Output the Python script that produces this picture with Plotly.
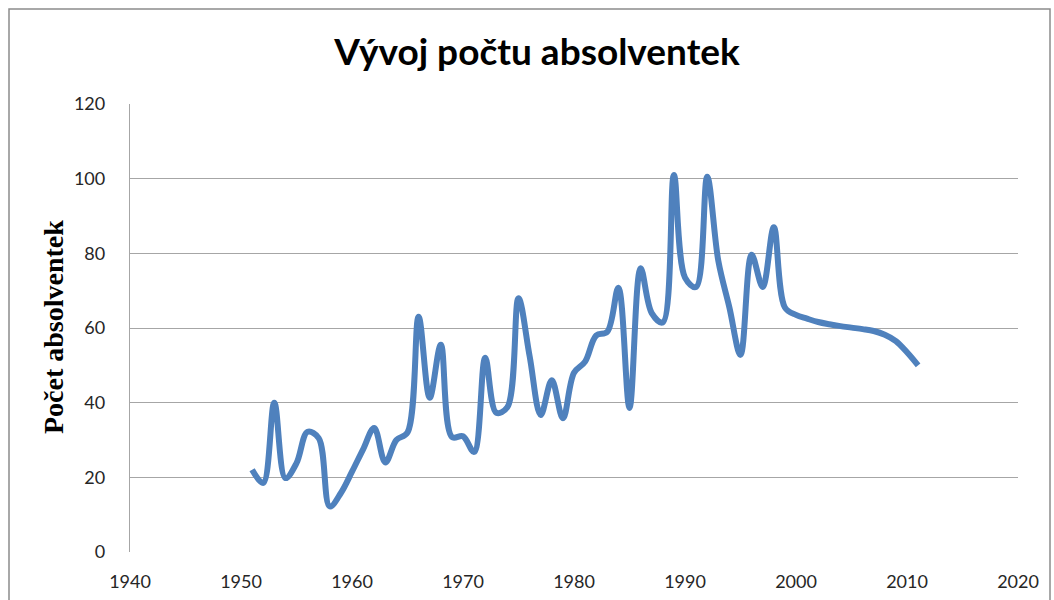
import plotly.graph_objects as go

years = list(range(1951, 2012))
graduates = [
    22, 18.5, 40, 19.8, 23.8, 32.2, 30.5, 12.2, 15.8, 21.5,   # 1951-1960
    27.5, 33.2, 24, 30, 32, 63, 41.3, 55.5, 30.8, 31,         # 1961-1970
    26.8, 52, 37.3, 38.8, 68, 52.5, 36.7, 46, 35.8, 48,       # 1971-1980
    51, 58, 59, 70.8, 38.6, 76, 64, 61.5, 101, 73.5,          # 1981-1990
    71, 100.5, 78, 65.5, 52.8, 79.6, 71, 87, 65.5, 63.5,      # 1991-2000
    62.5, 61.6, 61, 60.5, 60.1, 59.7, 59.2, 58.2, 56.5, 53.5, # 2001-2010
    50,                                                       # 2011
]

title_text = "Vývoj počtu absolventek"
y_title = "Počet absolventek"
x_ticks = [1940, 1950, 1960, 1970, 1980, 1990, 2000, 2010, 2020]
y_ticks = [0, 20, 40, 60, 80, 100, 120]

W, H = 1054, 600
L, R, T, B = 130, 1018, 104, 552

tick_font = dict(family="Lato, 'Noto Sans', sans-serif", size=18, color="#262626")

fig = go.Figure()
fig.add_trace(go.Scatter(
    x=years, y=graduates, mode="lines",
    line=dict(color="#4F81BD", width=6, shape="spline", smoothing=1),
    showlegend=False, hoverinfo="x+y",
))

fig.update_layout(
    width=W, height=H,
    margin=dict(l=L, r=W - R, t=T, b=H - B, autoexpand=False),
    paper_bgcolor="white", plot_bgcolor="white",
    title=dict(
        text="<b>" + title_text + "</b>", x=(537 - L) / (R - L), xref="paper",
        xanchor="center", y=1 - 52 / H, yanchor="middle",
        font=dict(family="Lato, 'Noto Sans', sans-serif", size=37, color="#000"),
    ),
    xaxis=dict(
        range=[1940, 2020], tickvals=x_ticks, showgrid=False, zeroline=False,
        showline=False, ticks="", ticklabelstandoff=17, tickfont=tick_font,
    ),
    yaxis=dict(
        range=[0, 120], tickvals=y_ticks, showgrid=True, gridcolor="#A6A6A6", gridwidth=1.3,
        zeroline=False, showline=True, linecolor="#A6A6A6", linewidth=1.3, ticks="",
        ticklabelstandoff=20, tickfont=tick_font,
    ),
    annotations=[dict(
        text="<b>" + y_title + "</b>", textangle=-90,
        xref="paper", yref="paper",
        x=(53 - L) / (R - L), y=(B - 327) / (B - T),
        xanchor="center", yanchor="middle", showarrow=False,
        font=dict(family="'Liberation Serif', 'Times New Roman', serif", size=28, color="#000"),
    )],
    shapes=[dict(
        type="rect", xref="paper", yref="paper", layer="below",
        x0=(9 - L) / (R - L), x1=(1050 - L) / (R - L),
        y0=(B - 610) / (B - T), y1=(B - 9) / (B - T),
        line=dict(color="#8C8C8C", width=1.5), fillcolor="rgba(0,0,0,0)",
    )],
)

fig.write_html("out.html", config={"displayModeBar": False},
               post_script="document.body.style.margin='0';")
